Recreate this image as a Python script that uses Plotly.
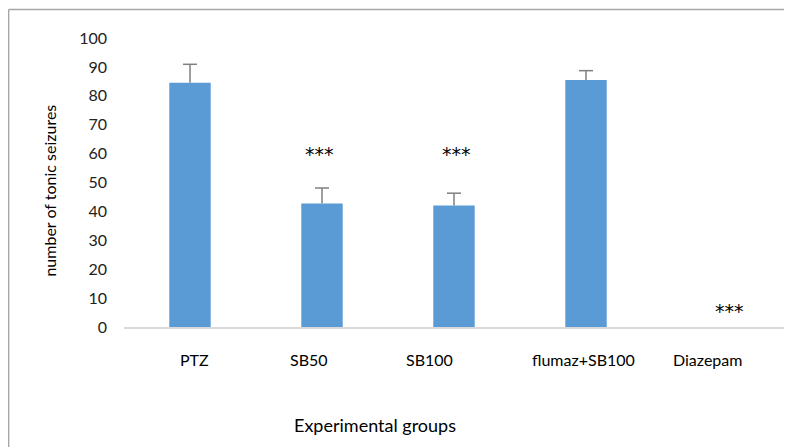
import plotly.graph_objects as go

groups = ["PTZ", "SB50", "SB100", "flumaz+SB100", "Diazepam"]
means = [84.5, 42.7, 42.0, 85.5, 0.0]
sem = [6.4, 5.4, 4.3, 3.2, 0.0]
stars = ["", "***", "***", "", "***"]
star_y = [None, 60, 60, None, 5.5]

FONT = "Lato"
OFF = 8  # page body margin
W, H = 792 - OFF, 447 - OFF
L, R, T = 123.5 - OFF, 16 - OFF, 38 - OFF
ph = 289
B = H - T - ph
pw = W - L - R

def px2paper_x(px):
    return (px - OFF - L) / pw

def px2paper_y(py):
    return (T + ph - (py - OFF)) / ph

fig = go.Figure()
fig.add_trace(go.Bar(
    x=groups, y=means,
    width=0.314,
    marker=dict(color="#5B9BD5", line=dict(width=0)),
))

# upper-only error bars (stem + cap)
ex, ey, cx, cy = [], [], [], []
for g, m, s in zip(groups, means, sem):
    if s > 0:
        ex += [g, g, None]
        ey += [m, m + s, None]
        cx.append(g)
        cy.append(m + s)
fig.add_trace(go.Scatter(x=ex, y=ey, mode="lines", line=dict(color="#7F7F7F", width=1.5),
                         hoverinfo="skip"))
fig.add_trace(go.Scatter(x=cx, y=cy, mode="markers",
                         marker=dict(symbol="line-ew", size=10,
                                     line=dict(color="#7F7F7F", width=1.5)),
                         hoverinfo="skip"))

label_shift = [4, -13, -25, -3, -11]
for g, s in zip(groups, label_shift):
    fig.add_annotation(x=g, xref="x", y=px2paper_y(359), yref="paper", text=g,
                       showarrow=False, xshift=s, yanchor="middle",
                       font=dict(family=FONT, size=16, color="#000000"))

star_shift = [0, -3, 2, 0, 11]
for g, st, sy, s in zip(groups, stars, star_y, star_shift):
    if st:
        fig.add_annotation(x=g, y=sy, text=st, showarrow=False, xshift=s,
                           yanchor="middle",
                           font=dict(family="DejaVu Sans", size=19, color="#000000"))

fig.add_annotation(x=px2paper_x(48), xref="paper", y=px2paper_y(191), yref="paper",
                   text="number of tonic seizures", textangle=-90, showarrow=False,
                   xanchor="center", yanchor="middle",
                   font=dict(family=FONT, size=16, color="#000000"))
fig.add_annotation(x=px2paper_x(375), xref="paper", y=px2paper_y(425), yref="paper",
                   text="Experimental groups", showarrow=False,
                   xanchor="center", yanchor="middle",
                   font=dict(family=FONT, size=18, color="#000000"))

# outer chart frame (top and left edges visible)
fig.add_shape(type="line", xref="paper", yref="paper",
              x0=px2paper_x(8), x1=px2paper_x(800), y0=px2paper_y(9.5), y1=px2paper_y(9.5),
              line=dict(color="#A6A6A6", width=1.5))
fig.add_shape(type="line", xref="paper", yref="paper",
              x0=px2paper_x(8), x1=px2paper_x(8), y0=px2paper_y(9.5), y1=px2paper_y(460),
              line=dict(color="#A6A6A6", width=1.5))

fig.update_layout(
    width=W, height=H,
    margin=dict(l=L, r=R, t=T, b=B),
    plot_bgcolor="white", paper_bgcolor="white",
    showlegend=False,
    xaxis=dict(showticklabels=False, showline=True, linecolor="#D9D9D9", linewidth=1.5,
               ticks="", showgrid=False, zeroline=False, range=[-0.5, 4.5]),
    yaxis=dict(range=[0, 100], dtick=10, showgrid=False, zeroline=False, showline=False,
               ticks="", ticklabelstandoff=16,
               tickfont=dict(family=FONT, size=16, color="#222222")),
)

fig.write_html("out.html")
